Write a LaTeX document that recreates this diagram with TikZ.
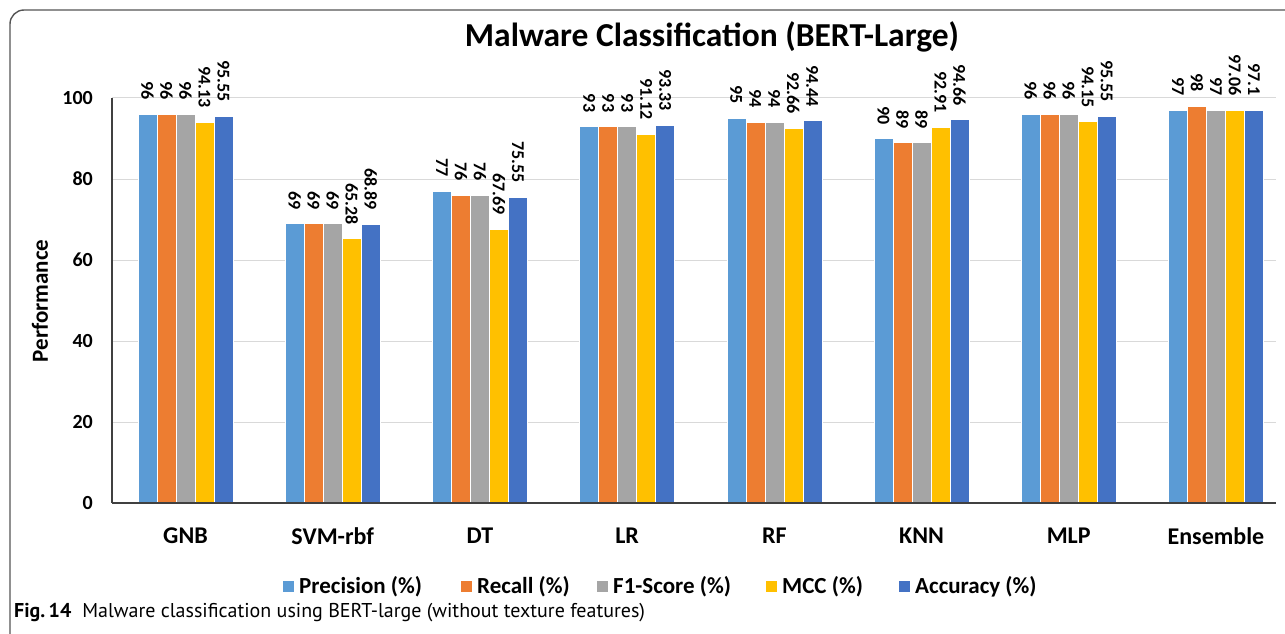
\documentclass[tikz,border=0pt]{standalone}
\usepackage{fontspec}
\newfontfamily\chartfont{Carlito}
\newfontfamily\capfont{PT Sans}

\definecolor{cPrec}{HTML}{5B9BD5}
\definecolor{cRec}{HTML}{ED7D31}
\definecolor{cFone}{HTML}{A5A5A5}
\definecolor{cMCC}{HTML}{FFC000}
\definecolor{cAcc}{HTML}{4472C4}
\definecolor{gridcol}{HTML}{D9D9D9}
\definecolor{axiscol}{HTML}{404040}
\definecolor{framecol}{HTML}{555555}

\tikzset{
  frameline/.style={draw=framecol, line width=1.4pt, rounded corners=14pt},
  gridline/.style={draw=gridcol, line width=1pt},
  axisline/.style={draw=axiscol, line width=1.5pt},
  bar/.style={draw=white, line width=0.4pt},
  titletext/.style={font=\chartfont\bfseries\fontsize{33.5}{38}\selectfont, inner sep=0pt},
  vlabel/.style={font=\chartfont\bfseries\fontsize{18}{20}\selectfont, rotate=-90, inner sep=0pt},
  ticklabel/.style={font=\chartfont\bfseries\fontsize{20}{22}\selectfont, inner sep=0pt, anchor=east},
  catlabel/.style={font=\chartfont\bfseries\fontsize{24}{26}\selectfont, inner sep=0pt},
  axistitle/.style={font=\chartfont\bfseries\fontsize{23}{25}\selectfont, inner sep=0pt, rotate=90},
  legendtext/.style={font=\chartfont\bfseries\fontsize{23}{25}\selectfont, inner sep=0pt, anchor=west},
  captext/.style={font=\capfont\fontsize{20}{22}\selectfont, inner sep=0pt, anchor=base west},
}

\begin{document}
\begin{tikzpicture}[x=1pt, y=-1pt]
\useasboundingbox (0,0) rectangle (1285,634);
\clip (0,0) rectangle (1285,634);

% outer panel frame (open to the right and bottom)
\draw[frameline] (10,700) -- (10,10) -- (1400,10);

% title
\node[titletext, anchor=base] (title) at (712,47) {Malware Classification (BERT-Large)};

% horizontal grid lines and tick labels
\foreach \v in {20,40,60,80,100} {
  \pgfmathsetmacro\yy{503-\v*4.05}
  \draw[gridline] (112,\yy) -- (1276,\yy);
}
\foreach \v in {0,20,40,60,80,100} {
  \pgfmathsetmacro\yy{503-\v*4.05}
  \node[ticklabel] (tick\v) at (93,\yy) {\v};
}

% axis title
\node[axistitle] (ytitle) at (40,301) {Performance};

% bars with rotated value labels
\foreach \cat/\vals [count=\i from 0] in {
    GNB/{96,96,96,94.13,95.55},
    SVM-rbf/{69,69,69,65.28,68.89},
    DT/{77,76,76,67.69,75.55},
    LR/{93,93,93,91.12,93.33},
    RF/{95,94,94,92.66,94.44},
    KNN/{90,89,89,92.91,94.66},
    MLP/{96,96,96,94.15,95.55},
    Ensemble/{97,98,97,97.06,97.1}} {
  \pgfmathsetmacro\cx{185.5+147.2*\i}
  \node[catlabel] (cat\i) at (\cx,536) {\cat};
  \foreach \v [count=\j from 0] in \vals {
    \pgfmathsetmacro\xl{\cx-47.5+19*\j}
    \pgfmathsetmacro\xr{\xl+19}
    \pgfmathsetmacro\xc{\xl+9.5}
    \pgfmathsetmacro\yt{503-\v*4.05}
    \pgfmathsetmacro\yl{\yt-14}
    \pgfmathparse{{"cPrec","cRec","cFone","cMCC","cAcc"}[\j]}
    \edef\col{\pgfmathresult}
    \fill[bar, fill=\col] (\xl,503) rectangle (\xr,\yt);
    \node[vlabel, anchor=east] (val\i-\j) at (\xc,\yl) {\v};
  }
}

% axes
\draw[axisline] (112,98) -- (112,503);
\draw[axisline] (112,503) -- (1276,503);

% legend
\foreach \sx/\col/\txt [count=\k] in {
    283/cPrec/Precision (\%),
    461/cRec/Recall (\%),
    597/cFone/F1-Score (\%),
    766/cMCC/MCC (\%),
    899/cAcc/Accuracy (\%)} {
  \fill[\col] (\sx,581) rectangle ++(11,11);
  \node[legendtext] (leg\k) at (\sx+16,587) {\txt};
}

% caption
\node[captext] (caption) at (14,617) {{\bfseries Fig.\,14}\hspace{0.55em}Malware classification using BERT-large (without texture features)};
\end{tikzpicture}
\end{document}
